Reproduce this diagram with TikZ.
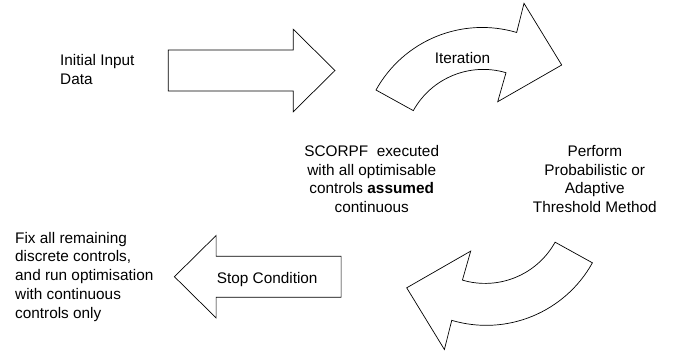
\documentclass[tikz,border=0pt]{standalone}
\usepackage{fontspec}
\setmainfont{Liberation Sans}

\begin{document}
\begin{tikzpicture}[
        x=1bp, y=-1bp,
        font=\fontsize{15.4}{18.6}\selectfont,
        blockarrow/.style={draw, line width=0.7bp, line join=miter, fill=white},
        txt/.style={inner sep=0pt, align=left, anchor=base west},
        ctxt/.style={inner sep=0pt, align=center, anchor=base}
    ]
    \useasboundingbox (0,0) rectangle (676,356);
    % straight block arrows
    \foreach \ang in {0,180}
        \draw[blockarrow, rotate around={\ang:(254.7,173.6)}] (168.3,50) -- (293.3,50) -- (293.3,29.3) -- (335,70.5) -- (293.3,111.7) -- (293.3,91) -- (168.3,91) -- cycle;
    % curved block arrows
    \foreach \ang in {0,180}
        \draw[blockarrow, rotate around={\ang:(484.2,176.4)}] (376,90) arc[start angle=-151, end angle=-73.5, radius=121.4] -- (524,3.3) -- (561.7,65) -- (497.7,101.7) -- (506,72.7) arc[start angle=-73.5, end angle=-151, radius=80] -- cycle;
    % labels (base anchor = last line)
    \node[txt] (input) at (60,84.5) {Initial Input\\Data};
    \node[ctxt] (iter) at (462.5,63.3) {Iteration};
    \node[ctxt] (scorpf) at (371.7,212.4) {SCORPF\ \ executed\\with all optimisable\\controls \textbf{assumed}\\continuous};
    \node[ctxt] (method) at (594.8,212.2) {Perform\\Probabilistic or\\Adaptive\\Threshold Method};
    \node[txt] (stop) at (216.7,283.5) {Stop Condition};
    \node[txt, font=\fontsize{15.4}{18.9}\selectfont] (fix) at (15,318.4) {Fix all remaining\\discrete controls,\\and run optimisation\\with continuous\\controls only};
\end{tikzpicture}
\end{document}
